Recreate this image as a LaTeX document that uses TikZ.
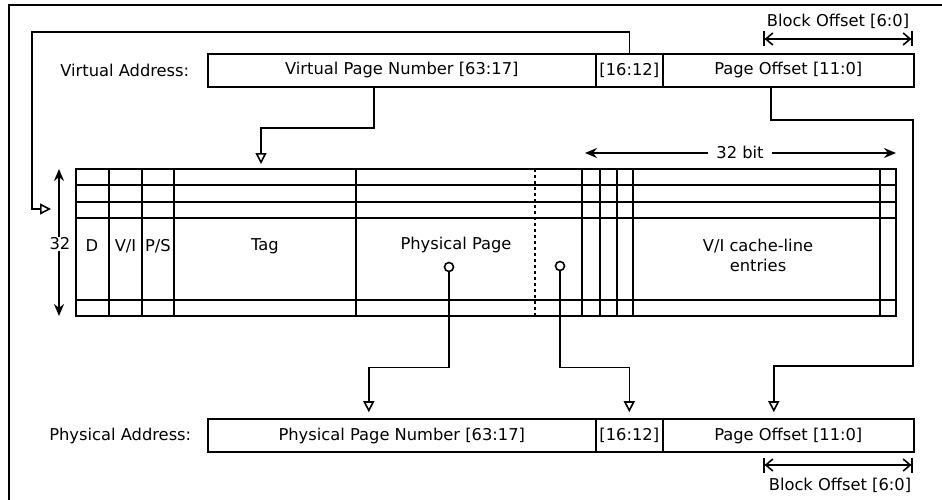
\documentclass[tikz,border=0pt]{standalone}
\usepackage{fontspec}
\setmainfont{DejaVu Sans}
\usetikzlibrary{arrows.meta}

\begin{document}
\begin{tikzpicture}[x=1pt,y=-1pt,line width=1.6pt,font=\fontsize{16.3pt}{20pt}\selectfont]
	\tikzstyle{field_style} = [draw=black,minimum height=33pt,inner sep=0pt,anchor=west]
	\tikzstyle{label_style} = [inner sep=1pt]
	\tikzstyle{conn_style} = [draw=black,-{Triangle[open,length=11pt,width=11pt]}]
	\tikzstyle{dim_style} = [draw=black,{Stealth[length=12pt,width=10pt]}-{Stealth[length=12pt,width=10pt]}]
	\tikzstyle{bo_style} = [draw=black,{Bar[width=15pt]Straight Barb[length=7pt,width=12pt]}-{Straight Barb[length=7pt,width=12pt]Bar[width=15pt]}]
	\tikzstyle{tap_style} = [circle,draw=black,inner sep=0pt,minimum size=9pt,fill=white]
	\useasboundingbox (0,0) rectangle (942,500);
	\clip (0,0) rectangle (942,500);
	\draw (9,5) rectangle (960,520);
	% virtual address
	\node[label_style,anchor=east] (vlabel) at (191,70.5) {Virtual Address:};
	\node[field_style,minimum width=388pt] (vpn) at (207,70.5) {Virtual Page Number [63:17]};
	\node[field_style,minimum width=67pt] (vidx) at (595,70.5) {[16:12]};
	\node[field_style,minimum width=251pt] (voff) at (662,70.5) {Page Offset [11:0]};
	\node[label_style] (vblock) at (838,21) {Block Offset [6:0]};
	\coordinate (vbl) at (763,39);
	\coordinate (vbr) at (913,39);
	\draw[bo_style] (vbl) -- (vbr);
	% physical address
	\node[label_style,anchor=east] (plabel) at (193,436) {Physical Address:};
	\node[field_style,minimum width=388pt] (ppn) at (207,435.5) {Physical Page Number [63:17]};
	\node[field_style,minimum width=67pt] (pidx) at (595,435.5) {[16:12]};
	\node[field_style,minimum width=251pt] (poff) at (662,435.5) {Page Offset [11:0]};
	\node[label_style] (pblock) at (840,485) {Block Offset [6:0]};
	\coordinate (pbl) at (763,465);
	\coordinate (pbr) at (913,465);
	\draw[bo_style] (pbl) -- (pbr);
	% table
	\draw (76,169) rectangle (896,316);
	\foreach \y in {185,202,218,300}
		\draw (76,\y) -- (896,\y);
	\foreach \x in {109,142,174,356,582,600,617,633,880}
		\draw (\x,169) -- (\x,316);
	\draw[dash pattern=on 3pt off 3pt] (535,169) -- (535,316);
	\node[label_style] (dcol) at (92,246) {D};
	\node[label_style] (vcol) at (125.5,246) {V/I};
	\node[label_style] (pcol) at (158,246) {P/S};
	\node[label_style] (tag) at (265,246) {Tag};
	\node[label_style] (ppage) at (456,245) {Physical Page};
	\node[label_style,align=center] (lines) at (758,255) {V/I cache-line\\entries};
	\coordinate (ttop) at (59,169);
	\coordinate (tbot) at (59,316);
	\draw[dim_style] (ttop) -- (tbot);
	\node[label_style,fill=white] (rows) at (60,244) {32};
	\coordinate (bitl) at (585,153);
	\coordinate (bitr) at (896,153);
	\draw[dim_style] (bitl) -- (bitr);
	\node[label_style,fill=white,inner xsep=8pt] (bits) at (740,152) {32 bit};
	\node[tap_style] (ptap) at (449,267) {};
	\node[tap_style] (itap) at (560,266) {};
	\coordinate (tagin) at (261,164);
	\coordinate (setin) at (51,209);
	% connectors
	\draw[conn_style] (vidx.north) |- (32,32) |- (setin);
	\draw[conn_style] ([xshift=-28pt]vpn.south) -- ++(0,40) -| (tagin);
	\draw[conn_style,shorten >=6pt] ([xshift=-17.5pt]voff.south) -- ++(0,32) -| (913,366) -| ([xshift=-14.5pt]poff.north);
	\draw[conn_style,shorten >=6pt] (ptap.south) -- ++(0,95) -| ([xshift=-33pt]ppn.north);
	\draw[conn_style,shorten >=6pt] (itap.south) -- ++(0,96) -| (pidx.north);
\end{tikzpicture}
\end{document}
